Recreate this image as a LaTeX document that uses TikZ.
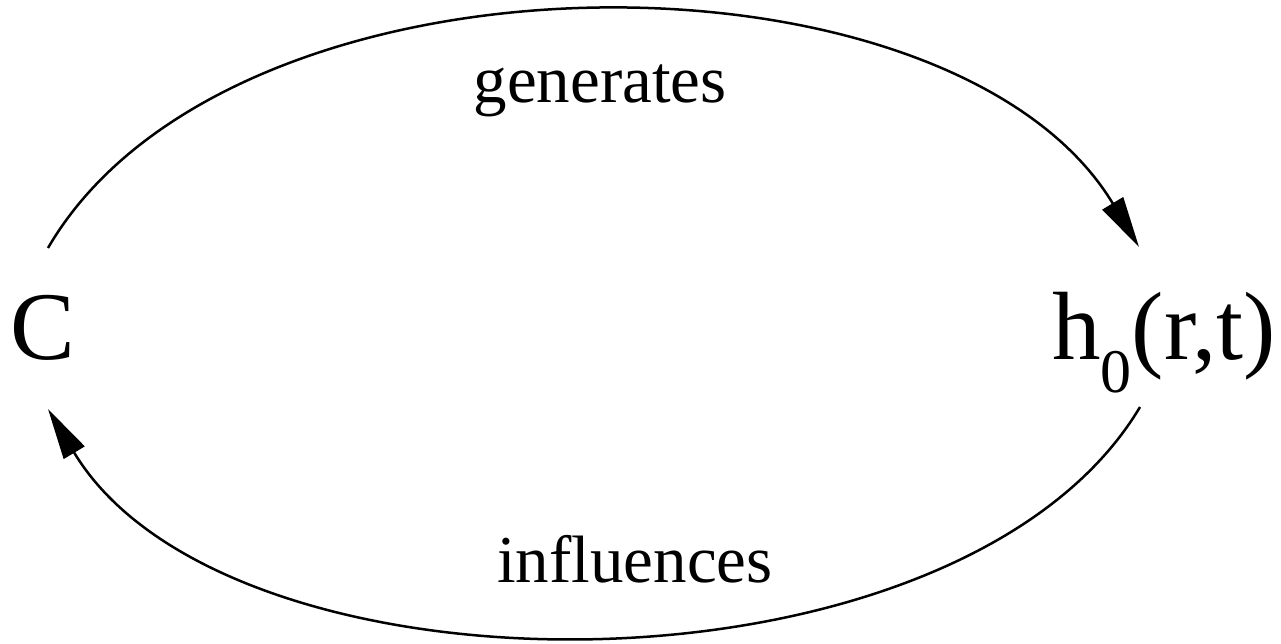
\documentclass[tikz,border=0pt]{standalone}
\usepackage{fontspec}
\setmainfont{Liberation Serif}
\usetikzlibrary{arrows.meta}
\begin{document}
\begin{tikzpicture}[x=1pt,y=1pt,
  bigtext/.style={inner sep=0pt,font=\fontsize{97}{97}\selectfont},
  labeltext/.style={inner sep=0pt,anchor=base,font=\fontsize{67}{67}\selectfont},
  flow/.style={line width=2.5pt,-{Triangle[length=51pt,width=24pt]}}]
\useasboundingbox (0,0) rectangle (1281,644);
% the two states
\node[bigtext,anchor=base] (C) at (43,284) {C};
\node[bigtext,anchor=base west] (h) at (1052,284)
  {h\raisebox{-33pt}{\fontsize{62}{62}\selectfont 0}(r,t)};
% edge labels
\node[labeltext] (gen) at (600,541) {generates};
\node[labeltext] (inf) at (635,61) {influences};
% upper arc: C generates h0
\draw[flow] ([shift={(5,112)}]C.base)
  .. controls (230,709) and (951,709) .. ([shift={(87,113)}]h.base west);
% lower arc: h0 influences C
\draw[flow] ([shift={(88,-47)}]h.base west)
  .. controls (960,-65) and (228,-65) .. ([shift={(5,-49)}]C.base);
\end{tikzpicture}
\end{document}
